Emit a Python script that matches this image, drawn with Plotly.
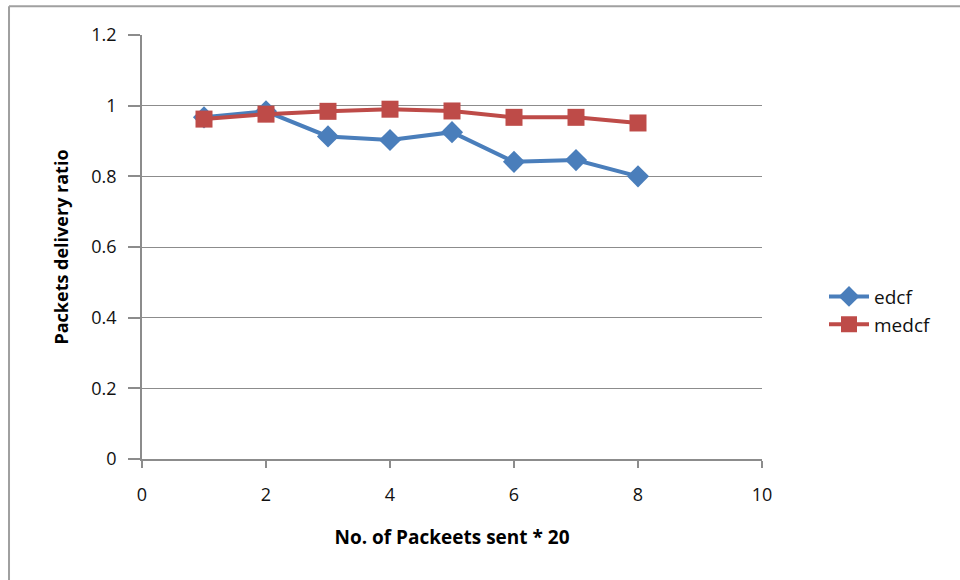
import plotly.graph_objects as go

# Packet delivery ratio for the two schemes, by number of packets sent (x20)
packets_sent = [1, 2, 3, 4, 5, 6, 7, 8]
edcf = [0.967, 0.984, 0.913, 0.903, 0.925, 0.841, 0.846, 0.800]
medcf = [0.962, 0.976, 0.984, 0.990, 0.985, 0.967, 0.967, 0.951]

x_ticks = [0, 2, 4, 6, 8, 10]
y_ticks = [0, 0.2, 0.4, 0.6, 0.8, 1, 1.2]
y_tick_text = ["0", "0.2", "0.4", "0.6", "0.8", "1", "1.2"]

FONT = "'Open Sans', sans-serif"
GRID = "#8c8c8c"

fig = go.Figure()
fig.add_trace(go.Scatter(
    x=packets_sent, y=edcf, name="edcf", mode="lines+markers",
    line=dict(color="#4a7ebb", width=4),
    marker=dict(symbol="diamond", size=17, color="#4a7ebb"),
))
fig.add_trace(go.Scatter(
    x=packets_sent, y=medcf, name="medcf", mode="lines+markers",
    line=dict(color="#be4b48", width=4),
    marker=dict(symbol="square", size=17, color="#be4b48"),
))

fig.update_layout(
    width=960, height=580,
    margin=dict(l=142, r=198, t=35, b=121),
    paper_bgcolor="white", plot_bgcolor="white",
    font=dict(family=FONT, size=18, color="#000000"),
    showlegend=True,
    legend=dict(
        x=1.10, y=0.35, xanchor="left", yanchor="middle",
        font=dict(family=FONT, size=19, color="#111111"),
        bgcolor="rgba(0,0,0,0)", tracegroupgap=0, itemwidth=40,
    ),
    xaxis=dict(
        range=[0, 10], tickvals=x_ticks, ticktext=[str(v) for v in x_ticks],
        showgrid=False, zeroline=False,
        showline=True, linecolor=GRID, linewidth=1.5,
        ticks="outside", ticklen=7, tickcolor=GRID, tickwidth=1.5,
        ticklabelstandoff=12,
        tickfont=dict(family=FONT, size=18, color="#111"),
        title=dict(text="<b>No. of Packeets sent * 20</b>",
                   font=dict(family=FONT, size=19, color="#000"), standoff=25),
    ),
    yaxis=dict(
        range=[0, 1.2], tickvals=y_ticks, ticktext=y_tick_text,
        showgrid=True, gridcolor=GRID, gridwidth=1, zeroline=False,
        showline=True, linecolor=GRID, linewidth=1.5,
        ticks="outside", ticklen=12, tickcolor=GRID, tickwidth=1.5,
        ticklabelstandoff=8,
        tickfont=dict(family=FONT, size=18, color="#111"),
        title=dict(text="<b>Packets delivery ratio</b>",
                   font=dict(family=FONT, size=18, color="#000"), standoff=18),
    ),
)

# Chart frame: left and top edges
fig.add_shape(type="line", xref="paper", yref="paper",
              x0=-0.2145, x1=-0.2145, y0=1.068, y1=-0.30,
              line=dict(color="#a0a0a0", width=2))
fig.add_shape(type="line", xref="paper", yref="paper",
              x0=-0.2145, x1=1.35, y0=1.068, y1=1.068,
              line=dict(color="#a0a0a0", width=2))

fig.write_html("out.html")
